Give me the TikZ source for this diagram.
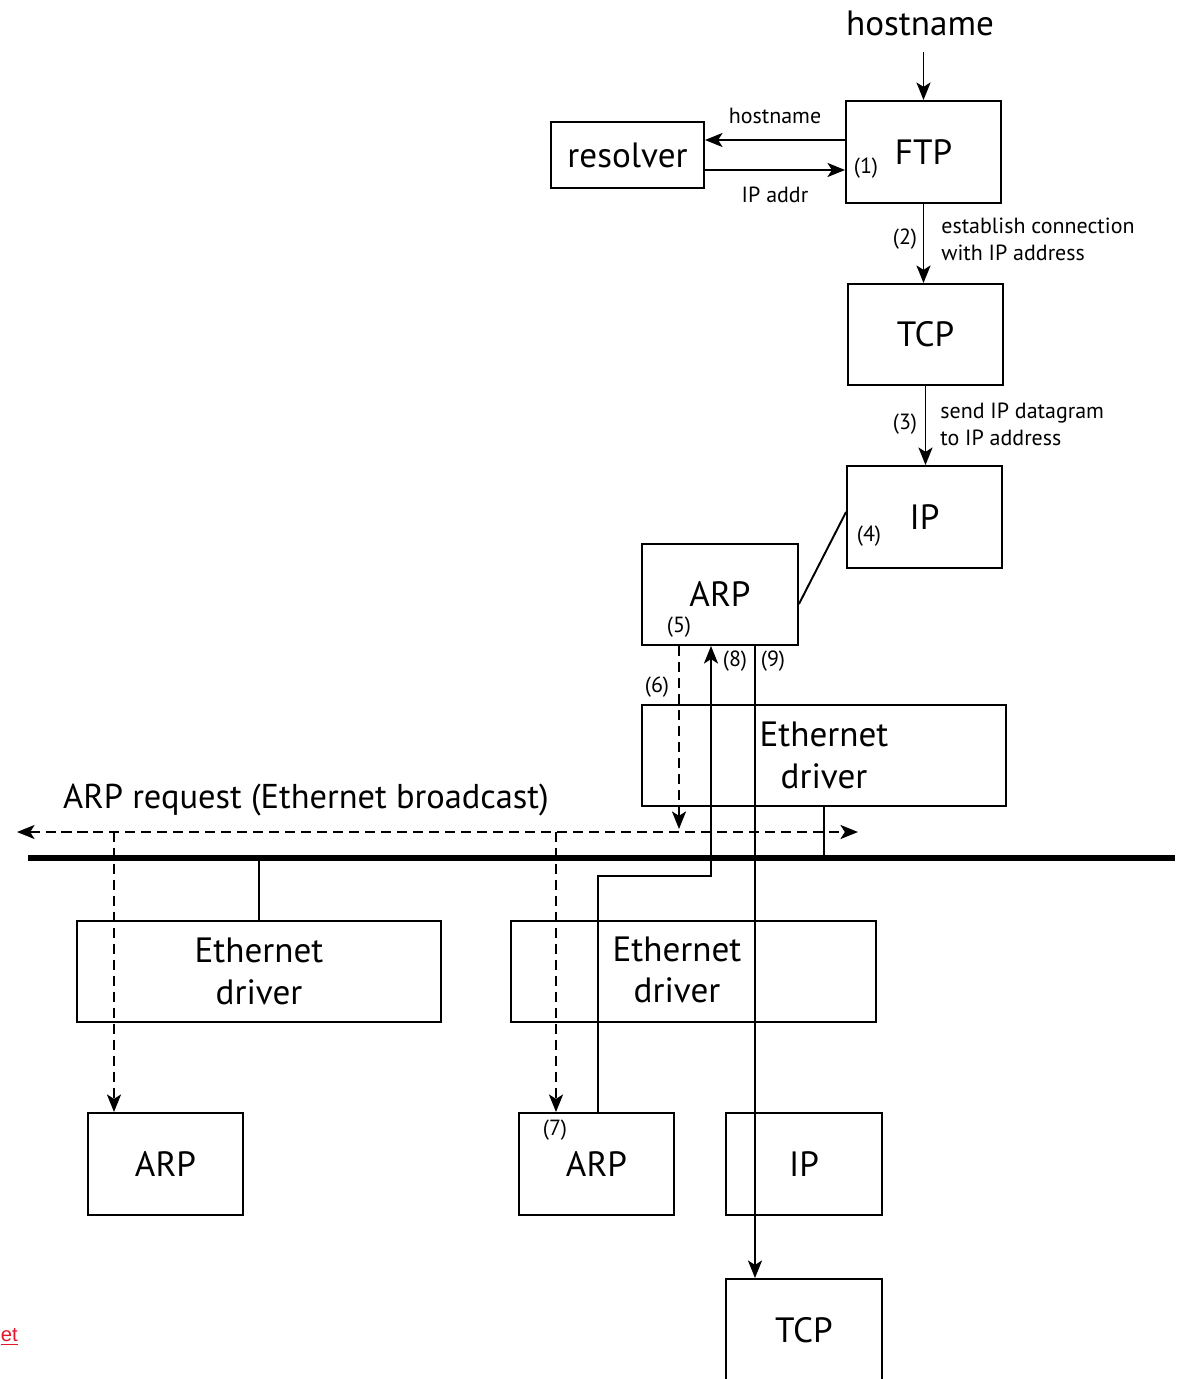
\documentclass[tikz,border=0pt]{standalone}
\usepackage{fontspec}
\setmainfont{PT Sans}
\newfontfamily\linkfont{Liberation Sans}
\usetikzlibrary{arrows.meta}
\definecolor{linkred}{RGB}{230,20,40}
\begin{document}
\begin{tikzpicture}[x=0.02cm,y=-0.02cm,
  box/.style={draw, line width=1.1pt, minimum width=3.1cm, minimum height=2.04cm, inner sep=0pt, font=\fontsize{20}{23.5}\selectfont, align=center},
  wide/.style={box, minimum width=7.28cm, minimum height=2.02cm},
  sm/.style={font=\fontsize{12.5}{15.3}\selectfont, inner sep=0pt, align=left},
  big/.style={font=\fontsize{20}{23.5}\selectfont, inner sep=0pt, align=center},
  conn/.style={line width=1.1pt},
  tip/.style={-{Stealth[length=10pt,width=8pt,inset=2.5pt]}},
  arr/.style={conn, tip},
  darr/.style={conn, {Stealth[length=10pt,width=8pt,inset=2.5pt]}-{Stealth[length=10pt,width=8pt,inset=2.5pt]}},
  dsh/.style={dash pattern=on 5.7pt off 3.4pt},
  bus/.style={line width=2.9pt}
]
\useasboundingbox (0,0) rectangle (1193,1379);

% boxes
\node[box] (ftp) at (923.5,152) {FTP};
\node[box, minimum width=3.06cm, minimum height=1.32cm] (resolver) at (627.5,155) {resolver};
\node[box, minimum height=2.02cm] (tcp1) at (925.5,334.5) {TCP};
\node[box] (ip1) at (924.5,517) {IP};
\node[box, minimum width=3.12cm, minimum height=2.02cm] (arp1) at (720,594.5) {ARP};
\node[wide] (eth1) at (824,755.5) {Ethernet\\driver};
\node[wide] (eth2) at (259,971.5) {Ethernet\\driver};
\node[wide, minimum width=7.3cm] (eth3) at (693.5,971.5) {};
\node[big] (eth3t) at (677,970) {Ethernet\\driver};
\node[box] (arp2) at (165.5,1164) {ARP};
\node[box] (arp3) at (596.5,1164) {ARP};
\node[box, minimum width=3.12cm] (ip2) at (804,1164) {IP};
\node[box, minimum width=3.12cm] (tcp2) at (804,1330) {TCP};

% texts
\node[big] (htop) at (920,23) {hostname};
\node[big, font=\fontsize{19.6}{23.5}\selectfont] (arpreq) at (306,800) {ARP request (Ethernet broadcast)};
\node[sm] (l1) at (866,168) {(1)};
\node[sm] (l2) at (905,239) {(2)};
\node[sm, anchor=west] (l2t) at (941,239) {establish connection\\with IP address};
\node[sm] (l3) at (905,424) {(3)};
\node[sm, anchor=west] (l3t) at (940,424) {send IP datagram\\to IP address};
\node[sm] (l4) at (869,536) {(4)};
\node[sm] (l5) at (679,627) {(5)};
\node[sm] (l6) at (657,687) {(6)};
\node[sm] (l7) at (555,1130) {(7)};
\node[sm] (l8) at (735,661) {(8)};
\node[sm] (l9) at (773,661) {(9)};
\node[anchor=west, inner sep=0pt, text=linkred, font=\linkfont\fontsize{11.5}{14}\selectfont] (lnk) at (0.5,1337) {\underline{et}};

% bus
\coordinate (busL) at (28,858);
\coordinate (busR) at (1175,858);
\draw[bus] (busL) -- (busR);

% connectors
\draw[arr] (ftp.north |- 0,52) -- (ftp.north);
\draw[arr] (ftp.west |- 0,140) -- node[sm, above=8.5pt] (lh) {hostname} (resolver.east |- 0,140);
\draw[arr] (resolver.east |- 0,170) -- node[sm, below=9pt] (lip) {IP addr} (ftp.west |- 0,170);
\draw[arr] (ftp.south) -- (ftp.south |- tcp1.north);
\draw[arr] (tcp1.south) -- (tcp1.south |- ip1.north);
\draw[conn] (ip1.west |- 0,512) -- (arp1.east |- 0,604);
\draw[conn, dsh, tip] (arp1.south -| 679,0) -- (679,829);
\draw[arr] (arp3.north -| 598,0) |- (711,876) -- (arp1.south -| 711,0);
\draw[arr] (arp1.south -| 755,0) -- (tcp2.north -| 755,0);
\draw[conn] (eth1.south -| 824,0) -- (busL -| 824,0);
\draw[conn] (eth2.north) -- (eth2.north |- busL);
\draw[darr, dsh] (17,832) -- (858,832);
\draw[conn, dsh, tip] (114,832) -- (arp2.north -| 114,0);
\draw[conn, dsh, tip] (556,832) -- (arp3.north -| 556,0);
\end{tikzpicture}
\end{document}
